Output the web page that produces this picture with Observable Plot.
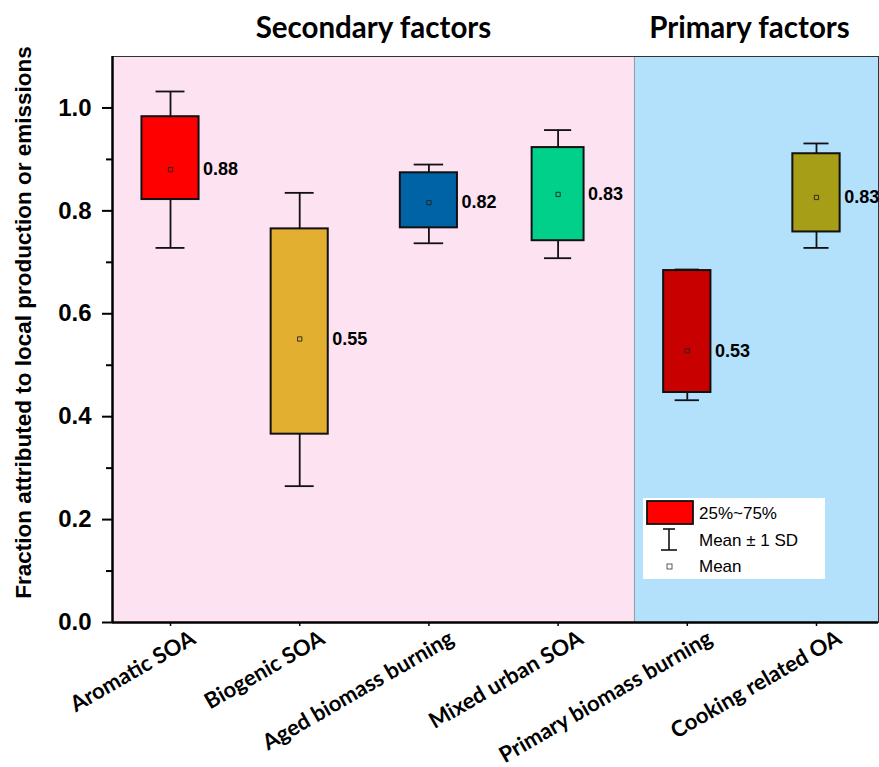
<!DOCTYPE html>
<html>
<head>
<meta charset="utf-8">
<script src="https://cdn.jsdelivr.net/npm/d3@7"></script>
<script src="https://cdn.jsdelivr.net/npm/@observablehq/plot@0.6"></script>
<style>
  html, body { margin: 0; padding: 0; background: #fff; }
  #wrap { position: relative; width: 879px; height: 767px; }
  #legend { position: absolute; left: 643px; top: 498px; width: 182px; height: 81px; background: #fff; }
  #legend text { font-family: "Liberation Sans", Arial, sans-serif; font-size: 17px; fill: #000; }
</style>
</head>
<body>
<div id="wrap"></div>
<script>
// ---- data ----
const categories = ["Aromatic SOA", "Biogenic SOA", "Aged biomass burning", "Mixed urban SOA", "Primary biomass burning", "Cooking related OA"];
const sdLow  = [0.728, 0.265, 0.737, 0.708, 0.432, 0.728];
const q25    = [0.822, 0.366, 0.767, 0.742, 0.447, 0.759];
const means  = [0.880, 0.551, 0.816, 0.832, 0.528, 0.826];
const q75    = [0.983, 0.765, 0.874, 0.923, 0.684, 0.911];
const sdHigh = [1.032, 0.835, 0.890, 0.957, 0.686, 0.931];
const yTicks = [0, 0.2, 0.4, 0.6, 0.8, 1.0];
const yMinorTicks = [0.1, 0.3, 0.5, 0.7, 0.9];
const groupNames = ["Secondary factors", "Primary factors"];
const yLabel = "Fraction attributed to local production or emissions";
const legendLabels = ["25%~75%", "Mean \u00b1 1 SD", "Mean"];

// ---- styles ----
const fills = ["#FF0000", "#E3AF30", "#0063A6", "#00D08A", "#C80000", "#A69E16"];
const bgFills = ["#FDE2F2", "#B3E1FC"];
const boxHalf = [0.221, 0.221, 0.221, 0.201, 0.183, 0.183];
const capHalf = [0.112, 0.112, 0.114, 0.105, 0.094, 0.097];
const titleShift = [0, -7];
const xMin = -0.449, xMax = 5.48, split = 3.591;

const rows = categories.map((c, i) => ({
  c, i, lo: sdLow[i], q1: q25[i], m: means[i], q3: q75[i], hi: sdHigh[i],
  fill: fills[i], hb: boxHalf[i], hc: capHalf[i]
}));
const regions = [
  {name: groupNames[0], x1: xMin, x2: split, fill: bgFills[0], shift: titleShift[0]},
  {name: groupNames[1], x1: split, x2: xMax, fill: bgFills[1], shift: titleShift[1]}
];

const bold = "bold";
const arial = "Liberation Sans, Arial, sans-serif";
const lato = "Lato, Carlito, Calibri, sans-serif";

const plot = Plot.plot({
  width: 879,
  height: 767,
  marginLeft: 112,
  marginRight: 1,
  marginTop: 56,
  marginBottom: 145,
  x: {type: "linear", domain: [xMin, xMax]},
  y: {domain: [0, 1.1]},
  style: {background: "transparent", overflow: "visible"},
  marks: [
    Plot.rect(regions, {x1: "x1", x2: "x2", y1: 0, y2: 1.1, fill: "fill"}),
    Plot.ruleX([split], {stroke: "#9a9a9a", strokeWidth: 1}),
    Plot.frame({stroke: "#333", strokeWidth: 1}),
    // whiskers
    Plot.ruleX(rows, {x: "i", y1: "lo", y2: "hi", stroke: "#111", strokeWidth: 1.8}),
    Plot.ruleY(rows, {y: "lo", x1: d => d.i - d.hc, x2: d => d.i + d.hc, stroke: "#111", strokeWidth: 1.8}),
    Plot.ruleY(rows, {y: "hi", x1: d => d.i - d.hc, x2: d => d.i + d.hc, stroke: "#111", strokeWidth: 1.8}),
    // boxes
    Plot.rect(rows, {x1: d => d.i - d.hb, x2: d => d.i + d.hb, y1: "q1", y2: "q3", fill: "fill", stroke: "#111", strokeWidth: 2}),
    // mean markers
    Plot.dot(rows, {x: "i", y: "m", symbol: "square", r: 2.4, fill: "none", stroke: "#222", strokeWidth: 0.9}),
    // mean labels
    Plot.text(rows, {x: d => d.i + d.hb, y: "m", text: d => d3.format(".2f")(d.m), textAnchor: "start", dx: 4,
      fontSize: 18, fontWeight: bold, fontFamily: arial, fill: "#000"}),
    // group titles
    ...regions.map(r => Plot.text([r], {x: d => (d.x1 + d.x2) / 2, text: "name", frameAnchor: "top", dy: -39, dx: r.shift,
      fontSize: 29.5, fontWeight: bold, fontFamily: lato, fill: "#000"})),
    // axes
    Plot.ruleX([xMin], {stroke: "#000", strokeWidth: 2.5}),
    Plot.ruleY([0], {stroke: "#000", strokeWidth: 2.5}),
    Plot.axisY({ticks: yTicks, tickFormat: () => "", tickSize: 10, strokeWidth: 2, label: null, stroke: "#000"}),
    Plot.text(yTicks, {y: d => d, text: d => d3.format(".1f")(d), frameAnchor: "left", textAnchor: "end", dx: -21,
      fontSize: 24, fontWeight: bold, fontFamily: arial, fill: "#000"}),
    Plot.axisY({ticks: yMinorTicks, tickFormat: () => "", tickSize: 6, strokeWidth: 2, label: null, stroke: "#000"}),
    Plot.axisX({ticks: d3.range(categories.length), tickFormat: () => "", tickSize: 4, strokeWidth: 1.5,
      label: null, stroke: "#000"}),
    Plot.axisX({ticks: d3.range(categories.length), tickFormat: i => categories[i], tickRotate: -30,
      tickSize: 0, tickPadding: 7, dx: 23, dy: 7,
      fontSize: 22, fontWeight: bold, fontFamily: lato, label: null, fill: "#000"}),
    Plot.text([yLabel], {frameAnchor: "left", textAnchor: "middle", rotate: -90, dx: -89, dy: -17,
      fontSize: 22.5, fontWeight: bold, fontFamily: arial, fill: "#000"})
  ]
});

const wrap = document.getElementById("wrap");
wrap.appendChild(plot);

// legend (inside the plot area)
const legend = document.createElement("div");
legend.id = "legend";
legend.innerHTML = `
<svg width="182" height="81" xmlns="http://www.w3.org/2000/svg">
  <rect x="4" y="3" width="46" height="23" fill="${fills[0]}" stroke="#111" stroke-width="1.8"/>
  <line x1="26" y1="31" x2="26" y2="52" stroke="#111" stroke-width="1.6"/>
  <line x1="20" y1="31" x2="32" y2="31" stroke="#111" stroke-width="1.6"/>
  <line x1="18" y1="52" x2="34" y2="52" stroke="#111" stroke-width="1.6"/>
  <rect x="24" y="66" width="5" height="5" fill="none" stroke="#333" stroke-width="0.8"/>
  <text x="56" y="15" dominant-baseline="central">${legendLabels[0]}</text>
  <text x="56" y="42" dominant-baseline="central">${legendLabels[1]}</text>
  <text x="56" y="68" dominant-baseline="central">${legendLabels[2]}</text>
</svg>`;
wrap.appendChild(legend);
</script>
</body>
</html>
